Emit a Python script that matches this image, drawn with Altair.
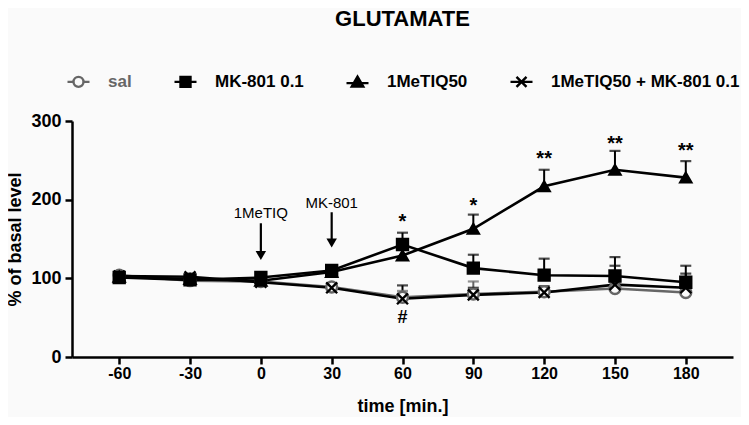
import altair as alt
import pandas as pd

times = [-60, -30, 0, 30, 60, 90, 120, 150, 180]
groups = ["sal", "MK-801 0.1", "1MeTIQ50", "1MeTIQ50 + MK-801 0.1"]

sal_mean = [104, 97, 96, 89, 76, 80, 83, 87, 82]
sal_sem = [3, 3, 4, 4, 8, 16, 6, 7, 6]
mk_mean = [101, 98, 101, 110, 143, 113, 104, 103, 95]
mk_sem = [3, 3, 4, 5, 15, 17, 21, 24, 21]
tiq_mean = [102, 99, 97, 108, 129, 163, 217, 238, 228]
tiq_sem = [3, 3, 4, 5, 12, 18, 21, 24, 21]
combo_mean = [103, 102, 95, 88, 74, 79, 82, 92, 88]
combo_sem = [3, 4, 4, 5, 17, 9, 8, 24, 18]

sig_t = [60, 90, 120, 150, 180]
sig_y = [175, 196, 255, 274, 266]
sig_text = ["*", "*", "**", "**", "**"]

hash_t = [60]
hash_y = [50]
hash_text = ["#"]

arrow_t = [0, 30]
arrow_label = ["1MeTIQ", "MK-801"]
arrow_label_y = [183, 196]
arrow_top = [170, 184]
arrow_head = [129, 145]

means = [sal_mean, mk_mean, tiq_mean, combo_mean]
sems = [sal_sem, mk_sem, tiq_sem, combo_sem]
rows = []
for g, m, s in zip(groups, means, sems):
    for t, mm, ss in zip(times, m, s):
        rows.append({"group": g, "t": t, "mean": mm, "upper": mm + ss})
df = pd.DataFrame(rows)

sig_df = pd.DataFrame({"t": sig_t, "y": sig_y, "text": sig_text})
hash_df = pd.DataFrame({"t": hash_t, "y": hash_y, "text": hash_text})
arr_df = pd.DataFrame({"t": arrow_t, "label": arrow_label, "ly": arrow_label_y,
                       "top": arrow_top, "head": arrow_head})

FONT = "Liberation Sans"
BG = "#fafafa"

stroke_range = ["#666666", "#000000", "#000000", "#000000"]
fill_range = [BG, "#000000", "#000000", "#000000"]
xpath = "M-1,-1L1,1M-1,1L1,-1"
shape_range = ["circle", "square", "triangle-up", xpath]
stub = "M-2.2,0L-1,0M1,0L2.2,0"
legend_shapes = [
    "M-1,0A1,1,0,1,1,1,0A1,1,0,1,1,-1,0Z" + stub,
    "M-1,-1H1V1H-1Z" + stub,
    "M0,-1.1L1.15,0.9H-1.15Z" + "M-2.2,0.2L-0.6,0.2M0.6,0.2L2.2,0.2",
    xpath + "M-2.2,0L2.2,0",
]

xscale = alt.Scale(domain=[-80, 200], nice=False, zero=False)
yscale = alt.Scale(domain=[0, 300], nice=False)
xaxis = alt.Axis(values=times, title="time [min.]", labelExpr="'' + datum.value")
yaxis = alt.Axis(values=[0, 100, 200, 300], title="% of basal level")


def X(field="t"):
    return alt.X(f"{field}:Q", scale=xscale, axis=xaxis, title="time [min.]")


def Y(field):
    return alt.Y(f"{field}:Q", scale=yscale, axis=yaxis, title="% of basal level")


stroke_enc = alt.Stroke("group:N", scale=alt.Scale(domain=groups, range=stroke_range), legend=None)

base = alt.Chart(df)

rules = base.mark_rule(strokeWidth=2).encode(x=X(), y=Y("mean"), y2="upper:Q", stroke=stroke_enc)
caps = base.mark_tick(orient="horizontal", size=11, thickness=2.2).encode(
    x=X(), y=Y("upper"), color=alt.Color("group:N", scale=alt.Scale(domain=groups, range=stroke_range), legend=None))
lines = base.mark_line(strokeWidth=2.6).encode(x=X(), y=Y("mean"), stroke=stroke_enc, detail="group:N")
points = base.mark_point(strokeWidth=2.4, size=120, opacity=1, filled=False).encode(
    x=X(), y=Y("mean"),
    stroke=stroke_enc,
    fill=alt.Fill("group:N", scale=alt.Scale(domain=groups, range=fill_range), legend=None),
    shape=alt.Shape("group:N", scale=alt.Scale(domain=groups, range=shape_range), legend=None),
)

leg = alt.Legend(
    orient="none", legendX=-2, legendY=-48, direction="horizontal", title=None,
    labelFont=FONT, labelFontSize=17, labelFontWeight="bold", labelLimit=400,
    labelColor=alt.expr("datum.label == 'sal' ? '#666666' : '#000000'"),
    symbolSize=100, symbolStrokeWidth=2.4, columnPadding=37, labelOffset=21,
    symbolOpacity=1,
)
legend_layer = base.transform_filter("datum.t > 10000").mark_point(strokeWidth=2.4, opacity=1, filled=False).encode(
    x=X(), y=Y("mean"),
    stroke=alt.Stroke("group:N", scale=alt.Scale(domain=groups, range=stroke_range), legend=leg, title=None),
    fill=alt.Fill("group:N", scale=alt.Scale(domain=groups, range=fill_range), legend=leg, title=None),
    shape=alt.Shape("group:N", scale=alt.Scale(domain=groups, range=legend_shapes), legend=leg, title=None),
)

sig = alt.Chart(sig_df).mark_text(font=FONT, fontSize=20, fontWeight="bold", color="black", baseline="middle", dy=3).encode(
    x=X(), y=Y("y"), text="text:N")
hsh = alt.Chart(hash_df).mark_text(font=FONT, fontSize=18, fontWeight="bold", color="black", baseline="middle").encode(
    x=X(), y=Y("y"), text="text:N")
arr_text = alt.Chart(arr_df).mark_text(font=FONT, fontSize=15, color="black", baseline="middle").encode(
    x=X(), y=Y("ly"), text="label:N")
arr_shaft = alt.Chart(arr_df).mark_rule(strokeWidth=2.2, color="black").encode(
    x=X(), y=Y("top"), y2="head:Q")
arr_head = alt.Chart(arr_df).mark_point(shape="triangle-down", size=110, filled=True, color="black", opacity=1).encode(
    x=X(), y=Y("head"))

chart = alt.layer(
    rules, caps, lines, points, legend_layer, sig, hsh, arr_text, arr_shaft, arr_head
).resolve_scale(
    shape="independent", fill="independent", stroke="independent", color="independent"
).resolve_legend(
    shape="independent", fill="independent", stroke="independent", color="independent"
).properties(
    width=661, height=236,
    autosize=alt.AutoSizeParams(type="none"),
    padding={"left": 64, "top": 113, "right": 8, "bottom": 60},
    background=BG,
    title=alt.TitleParams("GLUTAMATE", font=FONT, fontSize=22, fontWeight="bold", color="black",
                          anchor="middle", frame="group", offset=42),
).configure_view(stroke=None).configure_axis(
    domainColor="black", domainWidth=2.5, tickColor="black", tickWidth=2.5, tickSize=7,
    labelFont=FONT, labelFontSize=16, labelFontWeight="bold", labelColor="black",
    titleFont=FONT, titleFontSize=18, titleFontWeight="bold", titleColor="black", grid=False,
).configure_axisY(titlePadding=6, labelFontSize=18, labelPadding=4).configure_axisX(titlePadding=16, labelPadding=1)

chart.save("out.html", embed_options={"renderer": "svg", "actions": False})
